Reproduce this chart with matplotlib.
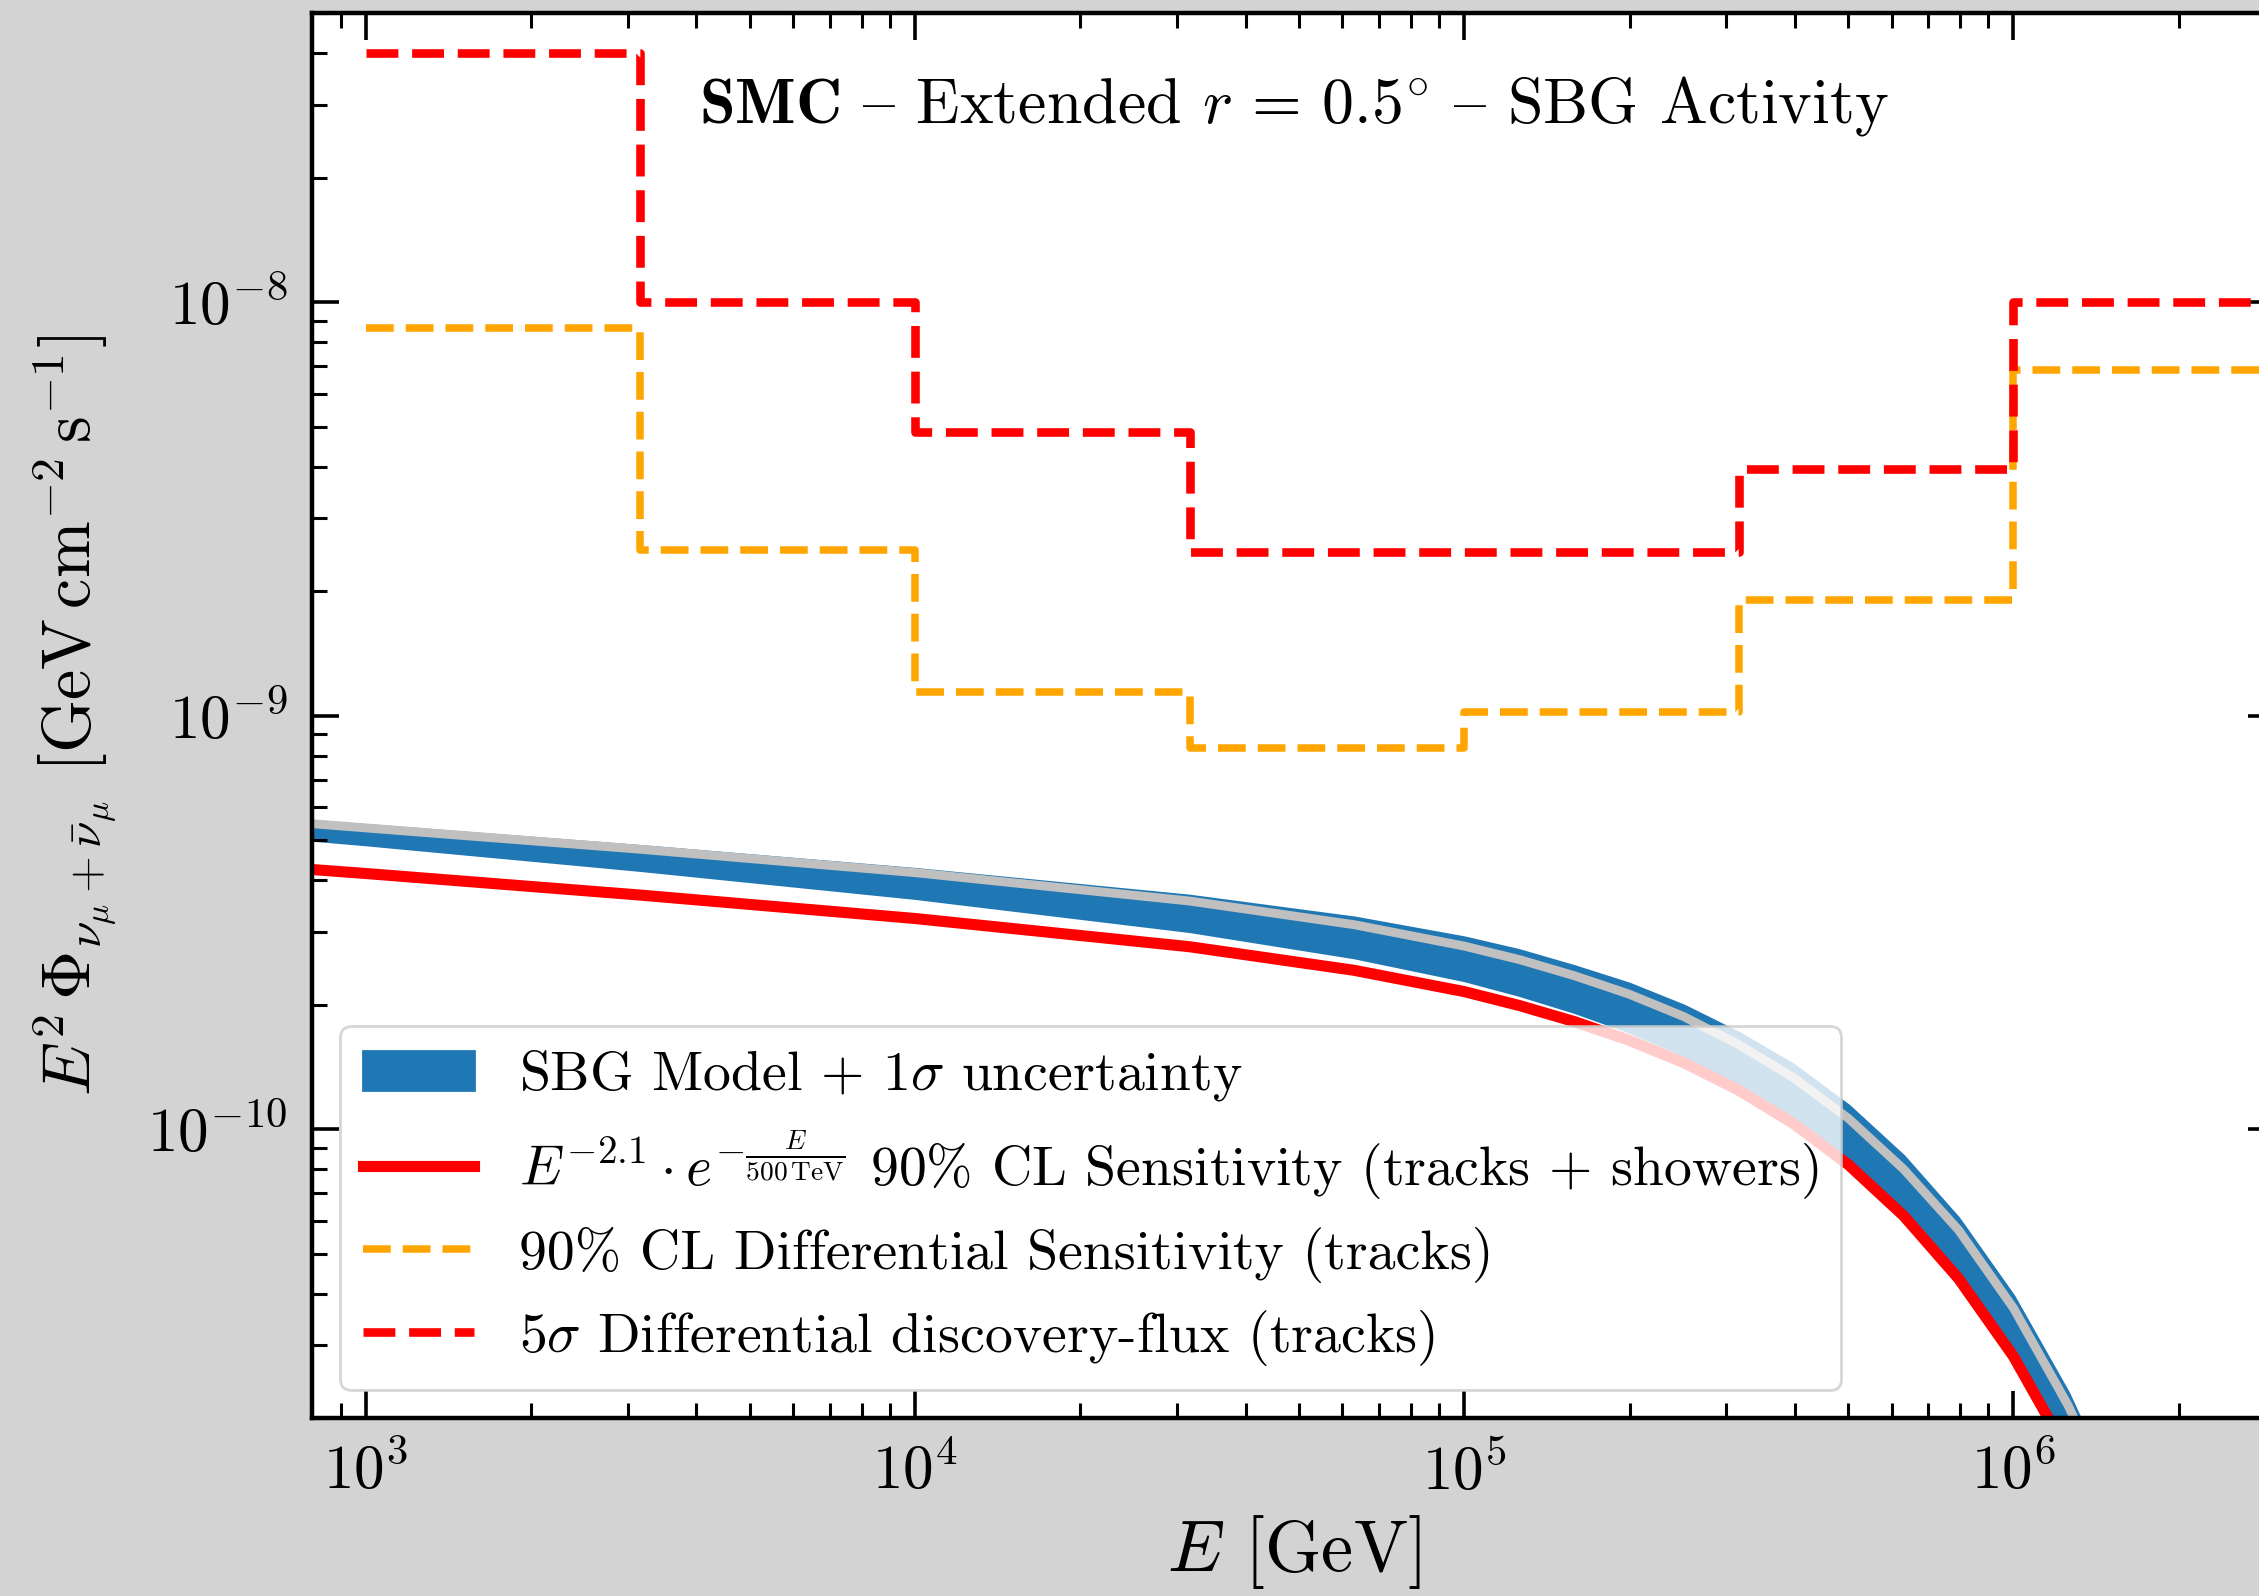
import matplotlib
matplotlib.use("Agg")
import matplotlib.pyplot as plt

plt.rcParams["font.family"] = ["cmr10", "DejaVu Serif"]
plt.rcParams["mathtext.fontset"] = "cm"
plt.rcParams["axes.formatter.use_mathtext"] = True

# differential bins (GeV)
bin_edges = [1000, 3162, 10000, 31623, 100000, 316228, 1000000, 3162278]
sens_diff = [8.65e-9, 2.51e-9, 1.14e-9, 8.35e-10, 1.02e-9, 1.90e-9, 6.86e-9]
disc_diff = [4.0e-8, 1.0e-8, 4.86e-9, 2.49e-9, 2.49e-9, 3.94e-9, 1.0e-8]

# curves (GeV)
energy = [794, 1000, 3162, 10000, 31623, 63096, 100000, 125893, 158489, 199526,
          251189, 316228, 398107, 501187, 630957, 794328, 1000000, 1258925, 1584893]
sens_cutoff = [4.245e-10, 4.15e-10, 3.68e-10, 3.23e-10, 2.76e-10, 2.42e-10, 2.15e-10,
               1.99e-10, 1.82e-10, 1.64e-10, 1.447e-10, 1.241e-10, 1.03e-10, 8.19e-11,
               6.17e-11, 4.35e-11, 2.82e-11, 1.64e-11, 8.4e-12]
sbg_mid = [5.48e-10, 5.35e-10, 4.75e-10, 4.17e-10, 3.56e-10, 3.12e-10, 2.77e-10,
           2.57e-10, 2.35e-10, 2.12e-10, 1.87e-10, 1.60e-10, 1.33e-10, 1.06e-10,
           8.0e-11, 5.70e-11, 3.69e-11, 2.14e-11, 1.10e-11]
sbg_hi = [5.56e-10, 5.44e-10, 4.84e-10, 4.26e-10, 3.67e-10, 3.25e-10, 2.91e-10,
          2.71e-10, 2.48e-10, 2.25e-10, 1.99e-10, 1.71e-10, 1.43e-10, 1.14e-10,
          8.61e-11, 6.09e-11, 3.95e-11, 2.30e-11, 1.18e-11]
sbg_lo = [5.01e-10, 4.88e-10, 4.23e-10, 3.62e-10, 3.01e-10, 2.60e-10, 2.29e-10,
          2.11e-10, 1.92e-10, 1.72e-10, 1.51e-10, 1.29e-10, 1.068e-10, 8.48e-11,
          6.37e-11, 4.48e-11, 2.90e-11, 1.69e-11, 8.7e-12]

fig = plt.figure(figsize=(11.295, 7.98), dpi=200, facecolor="lightgray")
ax = fig.add_axes([0.1383, 0.1115, 0.869, 0.8803])

ax.plot(energy, sens_cutoff, color="red", lw=4,
        label=r"$E^{-2.1} \cdot e^{-\frac{E}{500\,\mathrm{TeV}}}$ 90% CL Sensitivity (tracks + showers)")
ax.fill_between(energy, sbg_lo, sbg_hi, color="#1f77b4", lw=1,
                label=r"SBG Model + 1$\sigma$ uncertainty")
ax.plot(energy, sbg_mid, color="silver", lw=3.2)

ax.step(bin_edges, sens_diff + [sens_diff[-1]], where="post", color="orange",
        ls="--", lw=2.7, label="90% CL Differential Sensitivity (tracks)")
ax.step(bin_edges, disc_diff + [disc_diff[-1]], where="post", color="red",
        ls="--", lw=3.1, label=r"5$\sigma$ Differential discovery-flux (tracks)")

ax.set_xscale("log")
ax.set_yscale("log")
ax.set_xlim(800, 3e6)
ax.set_ylim(2e-11, 5e-8)

ax.set_xlabel(r"$E$ [GeV]", fontsize=26, labelpad=4)
ax.set_ylabel(r"$E^2\,\Phi_{\nu_\mu+\bar{\nu}_\mu}$ [GeV$\,$cm$^{-2}\,$s$^{-1}$]",
              fontsize=24.5, labelpad=10)

ax.tick_params(which="both", direction="in", top=True, right=True, labelsize=22)
ax.tick_params(which="major", length=9.7, width=1.3, pad=9)
ax.tick_params(which="minor", length=5.4, width=1.1)
for s in ax.spines.values():
    s.set_linewidth(1.6)

# "{" is the en dash slot of cmr10
ax.text(0.5, 0.9224, r"$\mathbf{SMC}$ { Extended $r\,=\,0.5^{\circ}$ { SBG Activity",
        transform=ax.transAxes, ha="center", va="baseline", fontsize=23)

handles, labels = ax.get_legend_handles_labels()
order = [1, 0, 2, 3]
ax.legend([handles[i] for i in order], [labels[i] for i in order],
          loc="lower left", fontsize=20.1, labelspacing=0.45)

fig.savefig("out.png", dpi=200, facecolor="lightgray")
